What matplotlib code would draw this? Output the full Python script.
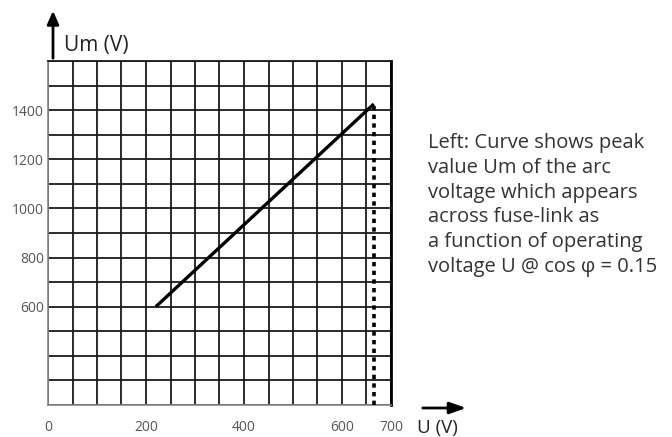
import numpy as np
import matplotlib
matplotlib.use('Agg')
import matplotlib.pyplot as plt

# dados
u_line = [220, 665]          # U (V)
um_line = [600, 1425]        # Um (V)
u_limit = 665                # linha tracejada vertical
x_ticks = [0, 200, 400, 600, 700]
y_ticks = [600, 800, 1000, 1200, 1400]
note = ["Left: Curve shows peak",
        "value Um of the arc",
        "voltage which appears",
        "across fuse-link as",
        "a function of operating",
        "voltage U @ cos \u03c6 = 0.15"]

plt.rcParams['font.family'] = ['Open Sans', 'DejaVu Sans']

fig = plt.figure(figsize=(6.72, 4.37), dpi=100)
W, H = 672, 437
ax = fig.add_axes([48 / W, 1 - 405 / H, (391 - 48) / W, (405 - 61) / H])
ax.set_xlim(0, 700)
ax.set_ylim(200, 1600)

# grade: 50 V em x, 100 V em y
gx = np.arange(0, 701, 50)
gy = np.arange(200, 1601, 100)
ax.set_xticks(gx, labels=[str(v) if v in x_ticks else '' for v in gx])
ax.set_yticks(gy, labels=[str(v) if v in y_ticks else '' for v in gy])
ax.tick_params(length=0, colors='#555555', labelsize=10)
ax.tick_params(axis='x', pad=11)
ax.tick_params(axis='y', pad=3)
ax.grid(True, color='#1a1a1a', linewidth=1.3)
ax.set_axisbelow(True)

for s in ['left', 'bottom']:
    ax.spines[s].set_color('#888888')
    ax.spines[s].set_linewidth(1.2)
ax.spines['top'].set_color('#1a1a1a')
ax.spines['top'].set_linewidth(1.3)
ax.spines['right'].set_color('black')
ax.spines['right'].set_linewidth(2)

ax.plot(u_line, um_line, color='black', linewidth=2.4, solid_capstyle='butt', zorder=3)
ax.plot([u_limit, u_limit], [200, um_line[1]], color='black', linewidth=2.6,
        linestyle=(0, (1.2, 1.2)), zorder=3)

# setas dos eixos
fig.add_artist(matplotlib.patches.FancyArrowPatch(
    (53 / W, 1 - 61 / H), (53 / W, 1 - 8 / H), transform=fig.transFigure,
    arrowstyle='-|>,head_length=8,head_width=3.5', color='black', linewidth=2,
    mutation_scale=1))
fig.add_artist(matplotlib.patches.FancyArrowPatch(
    (420 / W, 1 - 408 / H), (469 / W, 1 - 408 / H), transform=fig.transFigure,
    arrowstyle='-|>,head_length=10,head_width=3.5', color='black', linewidth=2,
    mutation_scale=1))

fig.text(64 / W, 1 - 45 / H, 'Um (V)', fontsize=15, color='#222222', va='center')
fig.text(417 / W, 1 - 428 / H, 'U (V)', fontsize=13.5, color='#222222', va='center')

for i, line in enumerate(note):
    fig.text(428 / W, 1 - (143 + i * 24.8) / H, line, fontsize=14.5,
             color='#333333', va='center')

fig.savefig('out.png', dpi=100)
